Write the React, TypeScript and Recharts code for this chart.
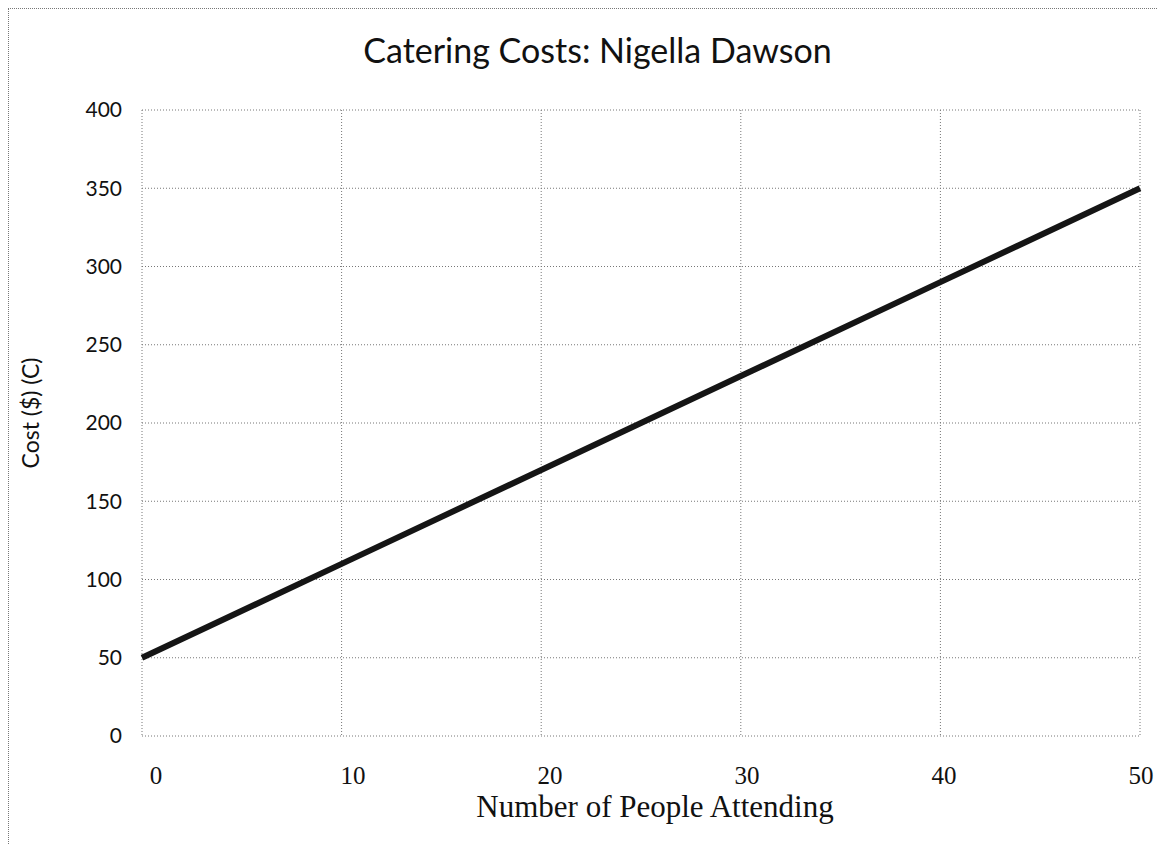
import React from "react";
import { LineChart, Line, XAxis, YAxis, CartesianGrid, Label } from "recharts";

// Catering cost by head count
const people = [0, 10, 20, 30, 40, 50];
const cost = [50, 110, 170, 230, 290, 350];
const xTicks = [0, 10, 20, 30, 40, 50];
const yTicks = [0, 50, 100, 150, 200, 250, 300, 350, 400];

const data = people.map((p, i) => ({ people: p, cost: cost[i] }));

const SANS = "Lato, 'Open Sans', sans-serif";
const SERIF = "'Liberation Serif', 'DejaVu Serif', serif";

// x labels sit a little right of their gridline, less so toward the right end
const XTick = (props: any) => {
  const { x, y, payload } = props;
  const shift = 14 - 0.26 * Number(payload.value);
  return (
    <text
      x={x + shift}
      y={y + 40}
      textAnchor="middle"
      fontFamily={SERIF}
      fontSize={25}
      fill="#111"
    >
      {payload.value}
    </text>
  );
};

export default function App() {
  return (
    <div
      style={{
        position: "relative",
        width: 1150,
        height: 835,
        borderLeft: "1px dotted #777",
        borderTop: "1px dotted #777",
        background: "#fff",
      }}
    >
      <div
        style={{
          position: "absolute",
          left: 14,
          width: 1149,
          top: 20,
          textAlign: "center",
          fontFamily: SANS,
          fontSize: 34,
          color: "#111",
        }}
      >
        Catering Costs: Nigella Dawson
      </div>
      <LineChart
        width={1149}
        height={834}
        data={data}
        margin={{ top: 101, right: 18, bottom: 0, left: 0 }}
      >
        <CartesianGrid stroke="#777" strokeDasharray="1 2" strokeWidth={1} />
        <XAxis
          dataKey="people"
          type="number"
          domain={[0, 50]}
          ticks={xTicks}
          height={107}
          axisLine={false}
          tickLine={false}
          tick={<XTick />}
        >
          <Label
            value="Number of People Attending"
            position="insideBottom"
            offset={26}
            dx={14}
            style={{ fontFamily: SERIF, fontSize: 31, fill: "#111" }}
          />
        </XAxis>
        <YAxis
          type="number"
          domain={[0, 400]}
          ticks={yTicks}
          width={133}
          axisLine={false}
          tickLine={false}
          tickMargin={14}
          tick={{ fontFamily: SANS, fontSize: 21, fill: "#111" }}
        >
          <Label
            value="Cost ($) (C)"
            angle={-90}
            position="insideLeft"
            offset={22}
            dy={-10}
            style={{ fontFamily: SANS, fontSize: 23, fill: "#111", textAnchor: "middle" }}
          />
        </YAxis>
        <Line
          dataKey="cost"
          type="linear"
          stroke="#151515"
          strokeWidth={6}
          dot={false}
          isAnimationActive={false}
        />
      </LineChart>
    </div>
  );
}
